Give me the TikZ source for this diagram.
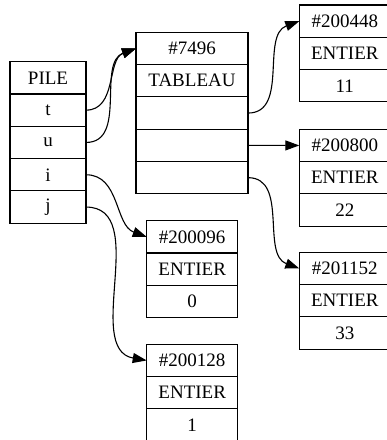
\documentclass[tikz,border=0pt]{standalone}
\usepackage{fontspec}
\setmainfont{Liberation Serif}
\usetikzlibrary{arrows.meta}

\tikzset{
  cell/.style={draw, line width=1.1pt, minimum height=32.3pt, inner sep=0pt,
    outer sep=0pt, node font=\fontsize{19pt}{22pt}\selectfont},
  pilecell/.style={cell, minimum width=76pt},
  tabcell/.style={cell, minimum width=112pt},
  intcell/.style={cell, minimum width=91pt},
  ptr/.style={line width=1.1pt, -{Triangle[length=14pt,width=10pt]}},
}

\begin{document}
\begin{tikzpicture}[x=1pt, y=-1pt]
  \clip (0,0) rectangle (387,440);

  % stack frame
  \node[pilecell] (pile) at (48,77.85)  {PILE};
  \node[pilecell] (pt)   at (48,110.15) {t};
  \node[pilecell] (pu)   at (48,142.45) {u};
  \node[pilecell] (pi)   at (48,174.75) {i};
  \node[pilecell] (pj)   at (48,207.05) {j};

  % array object
  \node[tabcell] (tab0) at (192,48.45)  {\#7496};
  \node[tabcell] (tab1) at (192,80.75)  {TABLEAU};
  \node[tabcell] (tab2) at (192,113.05) {};
  \node[tabcell] (tab3) at (192,145.35) {};
  \node[tabcell] (tab4) at (192,177.65) {};

  % integers held by the array
  \node[intcell] (a0) at (344.8,21.15) {\#200448};
  \node[intcell] (a1) at (344.8,53.45) {ENTIER};
  \node[intcell] (a2) at (344.8,85.75) {11};

  \node[intcell] (b0) at (344.8,145.45) {\#200800};
  \node[intcell] (b1) at (344.8,177.75) {ENTIER};
  \node[intcell] (b2) at (344.8,210.05) {22};

  \node[intcell] (c0) at (344.8,268.45) {\#201152};
  \node[intcell] (c1) at (344.8,300.75) {ENTIER};
  \node[intcell] (c2) at (344.8,333.05) {33};

  % integers held by the stack
  \node[intcell] (d0) at (192.2,236.85) {\#200096};
  \node[intcell] (d1) at (192.2,269.15) {ENTIER};
  \node[intcell] (d2) at (192.2,301.45) {0};

  \node[intcell] (e0) at (192.2,360.45) {\#200128};
  \node[intcell] (e1) at (192.2,392.75) {ENTIER};
  \node[intcell] (e2) at (192.2,425.05) {1};

  % references
  \draw[ptr] (pt.east) to[out=0,in=200] (tab0.west);
  \draw[ptr] (pu.east) to[out=0,in=200] (tab0.west);
  \draw[ptr] (pi.east) to[out=0,in=160] (d0.west);
  \draw[ptr] (pj.east) to[out=0,in=170] (e0.west);
  \draw[ptr] (tab2.east) to[out=0,in=200] (a0.west);
  \draw[ptr] (tab3.east) -- (b0.west);
  \draw[ptr] (tab4.east) to[out=0,in=160] (c0.west);
\end{tikzpicture}
\end{document}
